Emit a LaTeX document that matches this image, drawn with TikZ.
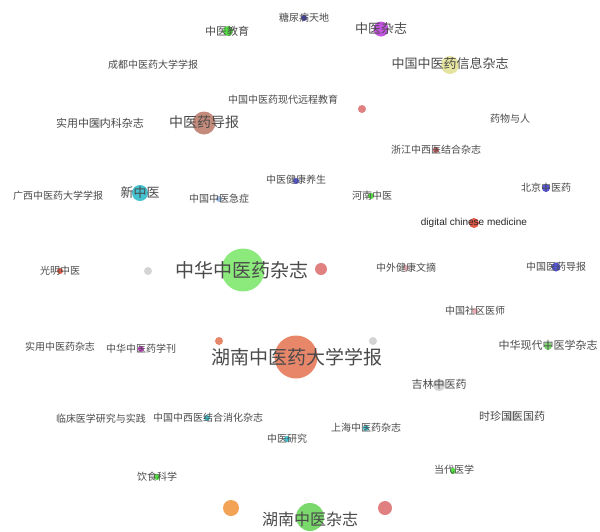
\documentclass[tikz,border=0pt]{standalone}
\usepackage{fontspec}
\setmainfont{Noto Sans CJK SC}
\newfontfamily\latinsans{Liberation Sans}
\definecolor{labc}{HTML}{4A4A4A}
\definecolor{cgreen}{HTML}{55DD44}
\definecolor{cpurple}{HTML}{C455E0}
\definecolor{cyellow}{HTML}{E4E4A0}
\definecolor{cbrown}{HTML}{C48A7C}
\definecolor{cgray}{HTML}{D4D4D4}
\definecolor{cteal}{HTML}{44C2D0}
\definecolor{cblue}{HTML}{5555D8}
\definecolor{cdblue}{HTML}{4040B0}
\definecolor{cred}{HTML}{E25A48}
\definecolor{cpink}{HTML}{E08080}
\definecolor{clgreen}{HTML}{8CEA7C}
\definecolor{csalmon}{HTML}{E8866A}
\definecolor{corange}{HTML}{F2A355}
\definecolor{cmgreen}{HTML}{7AD86C}
\definecolor{cmagenta}{HTML}{D040D0}
\definecolor{clblue}{HTML}{A0C0E8}
\definecolor{cdred}{HTML}{C86060}
\definecolor{clpink}{HTML}{EAB0B8}
\begin{document}
\begin{tikzpicture}[x=1pt,y=-1pt,
  blob/.style={circle, inner sep=0pt, draw=none},
  lab/.style={inner sep=0pt, text=labc},
  fa/.style={font=\fontsize{10}{12}\selectfont},
  fb/.style={font=\fontsize{11}{13}\selectfont},
  fc/.style={font=\fontsize{13}{15}\selectfont},
  fd/.style={font=\fontsize{14}{16}\selectfont},
  fe/.style={font=\fontsize{16}{18}\selectfont},
  ff/.style={font=\fontsize{19}{21}\selectfont}]
\useasboundingbox (0,0) rectangle (600,531);
\fill[white] (0,0) rectangle (600,531);
% dots
\node[blob, minimum size=6pt, fill=cdblue] (d1) at (304,18) {};
\node[blob, minimum size=10pt, fill=cgreen] (d2) at (228,31) {};
\node[blob, minimum size=15pt, fill=cpurple] (d3) at (381,29) {};
\node[blob, minimum size=18pt, fill=cyellow] (d5) at (450,65) {};
\node[blob, minimum size=8pt, fill=cpink] (d6) at (362,109) {};
\node[blob, minimum size=9pt, fill=cgray] (d7) at (98,123) {};
\node[blob, minimum size=23pt, fill=cbrown] (d8) at (204,123) {};
\node[blob, minimum size=6pt, fill=cdred] (d10) at (436,150) {};
\node[blob, minimum size=6pt, fill=cblue] (d11) at (296,181) {};
\node[blob, minimum size=16pt, fill=cteal] (d12) at (140,193) {};
\node[blob, minimum size=6pt, fill=clblue] (d14) at (219,199) {};
\node[blob, minimum size=6pt, fill=cgreen] (d15) at (371,196) {};
\node[blob, minimum size=8pt, fill=cblue] (d16) at (546,188) {};
\node[blob, minimum size=10pt, fill=cred] (d17) at (474,223) {};
\node[blob, minimum size=43pt, fill=clgreen] (d18) at (243,270) {};
\node[blob, minimum size=12pt, fill=cpink] (d19) at (321,269) {};
\node[blob, minimum size=8pt, fill=cgray] (d20) at (148,271) {};
\node[blob, minimum size=6pt, fill=cred] (d21) at (60,271) {};
\node[blob, minimum size=6pt, fill=clpink] (d22) at (406,268) {};
\node[blob, minimum size=9pt, fill=cblue] (d23) at (556,267) {};
\node[blob, minimum size=6pt, fill=clpink] (d24) at (475,311) {};
\node[blob, minimum size=8pt, fill=csalmon] (d25) at (219,341) {};
\node[blob, minimum size=8pt, fill=cgray] (d26) at (373,341) {};
\node[blob, minimum size=6pt, fill=cmagenta] (d28) at (141,349) {};
\node[blob, minimum size=43pt, fill=csalmon] (d29) at (296,357) {};
\node[blob, minimum size=8pt, fill=cmgreen] (d30) at (548,346) {};
\node[blob, minimum size=12pt, fill=cgray] (d31) at (439,385) {};
\node[blob, minimum size=6pt, fill=cteal] (d33) at (207,418) {};
\node[blob, minimum size=10pt, fill=cgray] (d34) at (512,416) {};
\node[blob, minimum size=6pt, fill=cteal] (d35) at (366,428) {};
\node[blob, minimum size=6pt, fill=cteal] (d36) at (287,439) {};
\node[blob, minimum size=6pt, fill=cgreen] (d37) at (157,477) {};
\node[blob, minimum size=6pt, fill=cgreen] (d38) at (453,471) {};
\node[blob, minimum size=16pt, fill=corange] (d39) at (231,508) {};
\node[blob, minimum size=28pt, fill=cmgreen] (d40) at (310,517) {};
\node[blob, minimum size=14pt, fill=cpink] (d41) at (385,508) {};
% labels
\node[lab, fa] (l1) at (304,18) {糖尿病天地};
\node[lab, fb] (l2) at (227,31) {中医教育};
\node[lab, fc] (l3) at (381,29) {中医杂志};
\node[lab, fa] (l4) at (153,65) {成都中医药大学学报};
\node[lab, fc] (l5) at (450,64) {中国中医药信息杂志};
\node[lab, fa] (l6) at (283,100) {中国中医药现代远程教育};
\node[lab, fb] (l7) at (100,123) {实用中医内科杂志};
\node[lab, fd] (l8) at (204,122) {中医药导报};
\node[lab, fa] (l9) at (510,119) {药物与人};
\node[lab, fa] (l10) at (436,150) {浙江中西医结合杂志};
\node[lab, fa] (l11) at (296,180) {中医健康养生};
\node[lab, fc] (l12) at (140,193) {新中医};
\node[lab, fa] (l13) at (58,196) {广西中医药大学学报};
\node[lab, fa] (l14) at (219,199) {中国中医急症};
\node[lab, fa] (l15) at (372,196) {河南中医};
\node[lab, fa] (l16) at (546,188) {北京中医药};
\node[lab, font=\latinsans\fontsize{10}{12}\selectfont, text=black!85] (l17) at (474,223) {digital chinese medicine};
\node[lab, ff] (l18) at (242,270) {中华中医药杂志};
\node[lab, fa] (l21) at (60,271) {光明中医};
\node[lab, fa] (l22) at (406,268) {中外健康文摘};
\node[lab, fa] (l23) at (556,267) {中国医药导报};
\node[lab, fa] (l24) at (475,311) {中国社区医师};
\node[lab, fa] (l27) at (60,347) {实用中医药杂志};
\node[lab, fa] (l28) at (141,349) {中华中医药学刊};
\node[lab, ff] (l29) at (297,357) {湖南中医药大学学报};
\node[lab, fb] (l30) at (548,345) {中华现代中医学杂志};
\node[lab, fb] (l31) at (439,384) {吉林中医药};
\node[lab, fa] (l32) at (101,419) {临床医学研究与实践};
\node[lab, fa] (l33) at (208,418) {中国中西医结合消化杂志};
\node[lab, fb] (l34) at (512,416) {时珍国医国药};
\node[lab, fa] (l35) at (366,428) {上海中医药杂志};
\node[lab, fa] (l36) at (287,439) {中医研究};
\node[lab, fa] (l37) at (157,477) {饮食科学};
\node[lab, fa] (l38) at (454,470) {当代医学};
\node[lab, fe] (l40) at (310,519) {湖南中医杂志};
\end{tikzpicture}
\end{document}
